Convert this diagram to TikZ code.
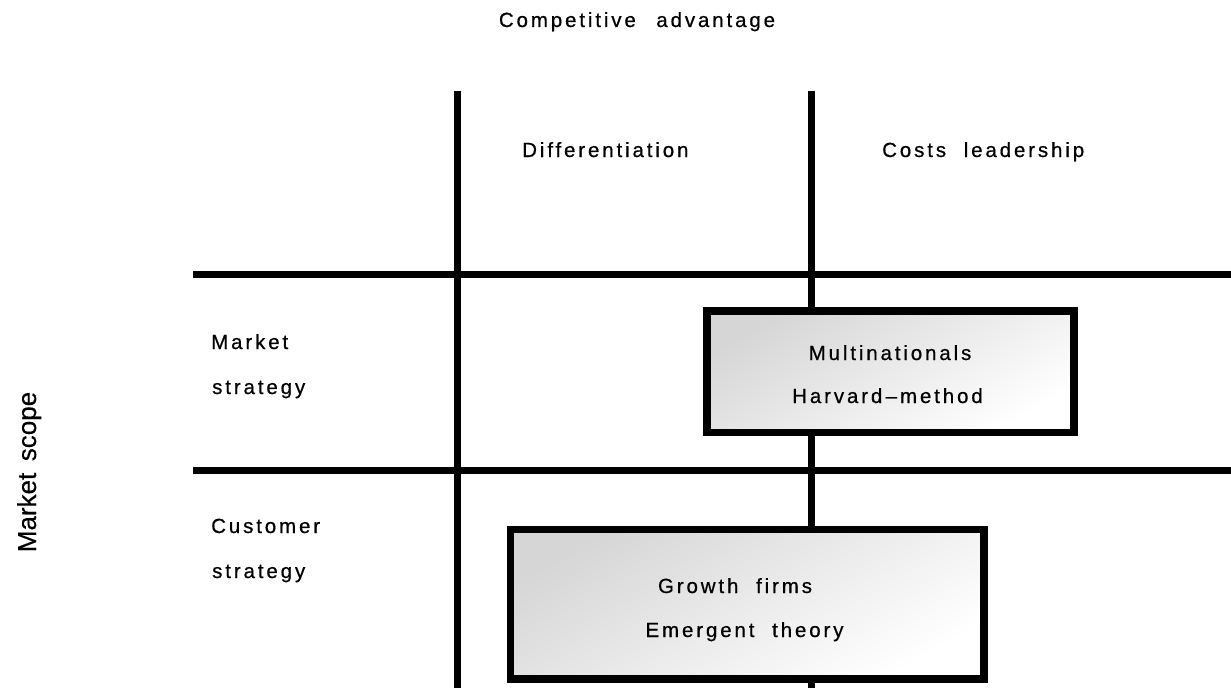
\documentclass[tikz,border=0pt]{standalone}
\usepackage{fontspec}
\setmainfont{Liberation Sans}[FakeBold=0.4]
\newfontfamily\spaced{Liberation Sans}[LetterSpace=14,FakeBold=0.6]
\begin{document}
\begin{tikzpicture}[x=1pt,y=-1pt,
  gridline/.style={line width=7pt,black},
  casebox/.style={draw=black,line width=7.5pt,rectangle,inner sep=0pt,
    top color=black!16,bottom color=white,shading angle=30},
  lbl/.style={inner sep=0pt,font=\spaced\fontsize{20.5}{24}\selectfont},
  axislbl/.style={inner sep=0pt,font=\fontsize{26}{30}\selectfont}]
\useasboundingbox (0,0) rectangle (1231,688);
% grid
\draw[gridline] (457,91) -- (457,688);
\draw[gridline] (811,91) -- (811,688);
\draw[gridline] (193,274.7) -- (1231,274.7);
\draw[gridline] (193,470) -- (1231,470);
% boxes
\node[casebox,minimum width=367pt,minimum height=121.5pt] (mn) at (890.5,371.8) {};
\node[casebox,minimum width=473.5pt,minimum height=149.5pt] (gf) at (747.3,604.3) {};
% axis titles
\node[lbl,anchor=base] (ca) at (637,27) {Competitive\quad advantage};
\node[axislbl,rotate=90,anchor=base] (ms) at (36,472) {Market\, scope};
% column heads
\node[lbl,anchor=base west] (diff) at (522,157) {Differentiation};
\node[lbl,anchor=base west] (cost) at (882,157) {Costs\;\, leadership};
% row heads
\node[lbl,anchor=base west] (ms1) at (211,349) {Market};
\node[lbl,anchor=base west] (ms2) at (212,394) {strategy};
\node[lbl,anchor=base west] (cs1) at (211,533) {Customer};
\node[lbl,anchor=base west] (cs2) at (212,578) {strategy};
% box texts
\node[lbl,anchor=base] (t1) at (890,360) {Multinationals};
\node[lbl,anchor=base] (t2) at (887.5,403) {Harvard\,–method};
\node[lbl,anchor=base] (t3) at (735,593) {Growth\;\, firms};
\node[lbl,anchor=base] (t4) at (744.5,637) {Emergent\;\, theory};
\end{tikzpicture}
\end{document}
